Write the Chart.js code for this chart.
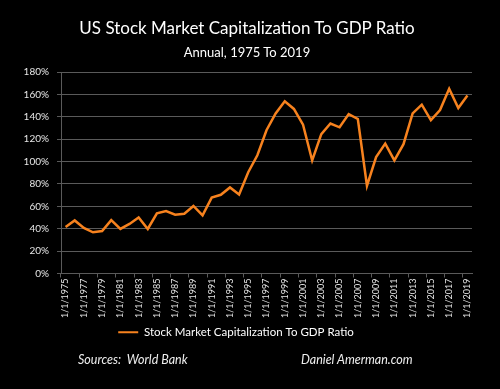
<!DOCTYPE html>
<html lang="en">
<head>
    <meta charset="UTF-8">
    <title>US Stock Market Capitalization To GDP Ratio</title>
    <script src="https://cdn.jsdelivr.net/npm/chart.js"></script>
    <style>
        body { margin: 0; background-color: #000; font-family: Lato, sans-serif; color: #fff; }
        .wrap { position: relative; width: 500px; height: 389px; }
        canvas { position: absolute; left: 0; top: 0; }
        .txt { position: absolute; white-space: pre; }
        #title { left: 0; width: 494px; top: 18px; text-align: center; font-size: 17px; line-height: 20px; }
        #subtitle { left: 0; width: 494px; top: 44px; text-align: center; font-size: 13px; line-height: 16px; }
        .foot { top: 353px; font-size: 12.5px; line-height: 14px; font-style: italic; color: #eee; }
    </style>
</head>
<body>
<div class="wrap">
    <canvas id="chart" width="500" height="389"></canvas>
    <div class="txt" id="title">US Stock Market Capitalization To GDP Ratio</div>
    <div class="txt" id="subtitle">Annual, 1975 To 2019</div>
    <div class="txt foot" style="left: 78px;">Sources:  World Bank</div>
    <div class="txt foot" style="left: 301px;">Daniel Amerman.com</div>
</div>

<script>
    const categories = ['1/1/1975', '1/1/1976', '1/1/1977', '1/1/1978', '1/1/1979', '1/1/1980', '1/1/1981', '1/1/1982', '1/1/1983', '1/1/1984',
        '1/1/1985', '1/1/1986', '1/1/1987', '1/1/1988', '1/1/1989', '1/1/1990', '1/1/1991', '1/1/1992', '1/1/1993', '1/1/1994',
        '1/1/1995', '1/1/1996', '1/1/1997', '1/1/1998', '1/1/1999', '1/1/2000', '1/1/2001', '1/1/2002', '1/1/2003', '1/1/2004',
        '1/1/2005', '1/1/2006', '1/1/2007', '1/1/2008', '1/1/2009', '1/1/2010', '1/1/2011', '1/1/2012', '1/1/2013', '1/1/2014',
        '1/1/2015', '1/1/2016', '1/1/2017', '1/1/2018', '1/1/2019'];
    const ratio = [41.6, 47.4, 40.7, 36.8, 38.0, 47.7, 39.8, 44.3, 50.1, 39.8,
        53.7, 55.8, 52.5, 53.4, 60.3, 51.9, 67.8, 70.3, 76.9, 70.6,
        90.5, 105.6, 128, 143, 153.8, 147, 133, 101, 124.5, 134,
        130.6, 142.4, 138, 78.4, 104, 116, 101, 115.5, 143, 150.8,
        137, 146, 165, 147.8, 159];
    const seriesName = 'Stock Market Capitalization To GDP Ratio';
    const yTicks = { min: 0, max: 180, step: 20 };

    const gridGrey = '#5a5a5a';
    const orange = '#f7821e';

    new Chart(document.getElementById('chart').getContext('2d'), {
        type: 'line',
        data: {
            labels: categories,
            datasets: [{
                label: seriesName,
                data: ratio,
                borderColor: orange,
                backgroundColor: orange,
                borderWidth: 2.5,
                pointRadius: 0,
                tension: 0
            }]
        },
        options: {
            responsive: false,
            animation: false,
            layout: { padding: { top: 72, right: 28, bottom: 41, left: 0 } },
            plugins: {
                title: { display: false },
                tooltip: { enabled: false },
                legend: {
                    position: 'bottom',
                    labels: {
                        color: '#fff',
                        font: { family: 'Lato', size: 11.5 },
                        boxWidth: 20,
                        boxHeight: 2,
                        padding: 6,
                        generateLabels: chart => Chart.defaults.plugins.legend.labels.generateLabels(chart)
                            .map(l => Object.assign(l, { lineWidth: 0, fillStyle: orange }))
                    }
                }
            },
            scales: {
                x: {
                    offset: true,
                    afterFit: s => { s.height = 47; },
                    grid: {
                        offset: true,
                        drawOnChartArea: false,
                        tickLength: 4,
                        color: c => (c.index === undefined || c.index % 2) ? 'transparent' : gridGrey
                    },
                    border: { color: gridGrey },
                    ticks: {
                        autoSkip: false,
                        maxRotation: 90,
                        minRotation: 90,
                        padding: 1,
                        color: '#e6e6e6',
                        font: { family: 'Lato', size: 9 },
                        callback: function (v, i) { return i % 2 ? '' : this.getLabelForValue(v); }
                    }
                },
                y: {
                    min: yTicks.min,
                    max: yTicks.max,
                    afterFit: s => { s.width = 61; },
                    grid: { color: gridGrey, tickLength: 4 },
                    border: { color: gridGrey },
                    ticks: {
                        stepSize: yTicks.step,
                        padding: 8,
                        color: '#e6e6e6',
                        font: { family: 'Lato', size: 10 },
                        callback: v => v + '%'
                    }
                }
            }
        }
    });
</script>
</body>
</html>
